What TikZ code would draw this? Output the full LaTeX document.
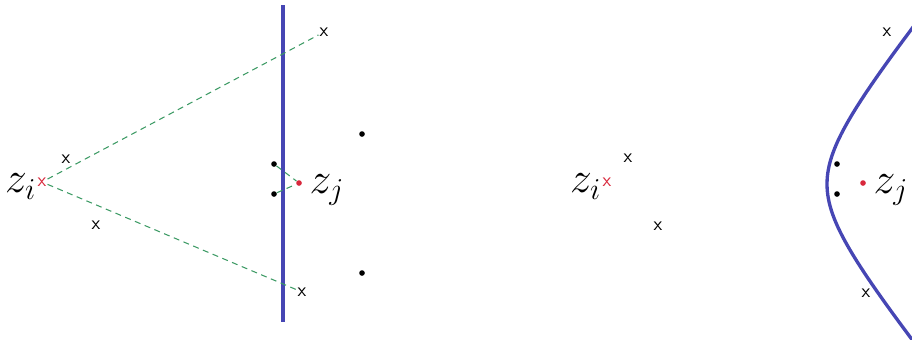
\documentclass[tikz,border=0pt]{standalone}
\usetikzlibrary{positioning}
\definecolor{cblue}{HTML}{4646B4}
\definecolor{cred}{HTML}{D8283C}
\definecolor{cgreen}{HTML}{3C9A64}
\tikzset{
  every picture/.style={font=\sffamily, x=0.02cm, y=-0.02cm},
  xmark/.style={inner sep=0.5pt, font=\sffamily\fontsize{11}{13}\selectfont},
  src/.style={xmark, text=cred},
  pt/.style={circle, fill=black, inner sep=0pt, minimum size=3.2pt},
  tgt/.style={pt, fill=cred},
  lbl/.style={font=\fontsize{23}{27}\selectfont, inner sep=0pt},
  ray/.style={draw=cgreen, dash pattern=on 3.4pt off 2.6pt, line width=0.6pt},
  wall/.style={draw=cblue, line width=2.3pt},
  curve/.style={draw=cblue, line width=1.9pt},
}

\begin{document}
\begin{tikzpicture}
  \useasboundingbox (0,0) rectangle (912,339);
  % left: straight line
  \coordinate (wtop) at (283,5);
  \coordinate (wbot) at (283,322);
  \draw[wall] (wtop) -- (wbot);
  \node[src] (ri) at (42,182) {x};
  \node[lbl, left=0pt of ri, yshift=-2.5pt] (zi) {$z_i$};
  \node[xmark] (xa) at (66,159) {x};
  \node[xmark] (xb) at (96,225) {x};
  \node[xmark] (xc) at (324,32) {x};
  \node[xmark] (xd) at (302,292) {x};
  \node[pt] (pa) at (274,164) {};
  \node[pt] (pb) at (274,194) {};
  \node[pt] (pc) at (362,134) {};
  \node[pt] (pd) at (362,273) {};
  \node[tgt] (rj) at (299,183) {};
  \node[lbl, right=4pt of rj, yshift=-4pt] (zj) {$z_j$};
  \draw[ray] (ri) -- (xc);
  \draw[ray] (ri) -- (xd);
  \draw[ray] (pa) -- (rj);
  \draw[ray] (pb) -- (rj);
  % right: hyperbola
  \node[src] (ri2) at (607,182) {x};
  \node[lbl, left=0pt of ri2, yshift=-2.5pt] (zi2) {$z_i$};
  \node[xmark] (xe) at (628,158) {x};
  \node[xmark] (xf) at (658,226) {x};
  \node[xmark] (xg) at (887,32) {x};
  \node[xmark] (xh) at (866,293) {x};
  \node[pt] (pe) at (837,164) {};
  \node[pt] (pf) at (837,194) {};
  \node[tgt] (rj2) at (863,183) {};
  \node[lbl, right=4pt of rj2, yshift=-4pt] (zj2) {$z_j$};
  \begin{scope}
    \clip (0,0) rectangle (912,339);
    \draw[curve] plot[domain=-1.75:1.75, samples=80, smooth, variable=\t]
      ({777+50*cosh(\t)}, {184+62*sinh(\t)});
  \end{scope}
\end{tikzpicture}
\end{document}
